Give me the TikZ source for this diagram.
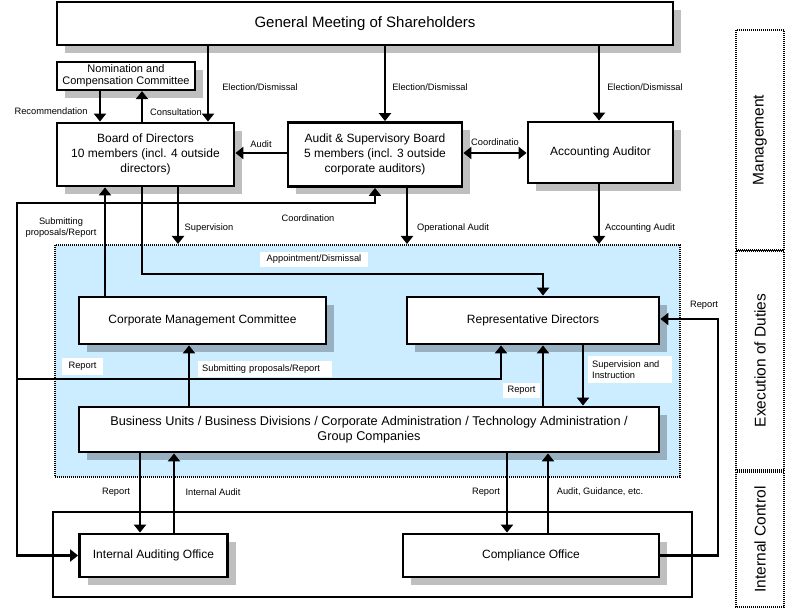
\documentclass[tikz,border=0pt]{standalone}
\usepackage{fontspec}
\setmainfont{Liberation Sans}
\usetikzlibrary{arrows.meta,shadows}
\definecolor{execblue}{HTML}{CCECFF}
\tikzset{
  box/.style={draw, line width=2.8pt, fill=white, align=center, inner sep=0pt,
    font=\fontsize{12}{15}\selectfont,
    drop shadow={shadow xshift=8pt, shadow yshift=-8pt, fill=black, opacity=0.25}},
  dotbox/.style={draw, line width=2pt, dash pattern=on 1pt off 1pt, inner sep=0pt},
  sidebox/.style={dotbox, rotate=90, font=\fontsize{15.5}{18}\selectfont},
  arr/.style={line width=2.2pt, -{Triangle[length=8pt,width=12pt]}},
  arrb/.style={line width=2.2pt, {Triangle[length=8pt,width=12pt]}-{Triangle[length=8pt,width=12pt]}},
  lbl/.style={inner sep=0pt, font=\fontsize{9.3}{11}\selectfont},
  wlbl/.style={lbl, fill=white, inner xsep=4pt, inner ysep=3pt}
}
\begin{document}
\begin{tikzpicture}[x=1pt,y=-1pt]
\useasboundingbox (0,0) rectangle (798,609);

% execution region
\node[dotbox, fill=execblue, minimum width=625, minimum height=232] (exec) at (367.5,361) {};
% internal control region
\node[draw, line width=1.4pt, minimum width=639, minimum height=85, inner sep=0pt] (ic) at (372.5,554.5) {};

% side labels
\node[sidebox, minimum width=220, minimum height=48] (mg) at (760,140) {Management};
\node[sidebox, minimum width=219, minimum height=48] (ed) at (760,360.5) {Execution of Duties};
\node[sidebox, minimum width=135, minimum height=48] (icl) at (760,539.5) {Internal Control};

% boxes
\node[box, minimum width=616, minimum height=43, font=\fontsize{15}{18}\selectfont] (gm) at (365,23.5) {\raisebox{-1.5pt}{General Meeting of Shareholders}};
\node[box, line width=2.2pt, minimum width=138, minimum height=28, font=\fontsize{11}{12}\selectfont] (ncc) at (126,76) {Nomination and\\Compensation Committee};
\node[box, minimum width=177, minimum height=63] (bod) at (145.5,154.5) {Board of Directors\\10 members (incl. 4 outside\\directors)};
\node[box, minimum width=174, minimum height=64] (asb) at (375,154.5) {Audit \& Supervisory Board\\5 members (incl. 3 outside\\corporate auditors)};
\node[box, minimum width=145, minimum height=61] (aa) at (600.5,152.5) {Accounting Auditor};
\node[box, minimum width=247, minimum height=47] (cmc) at (202.5,320.5) {Corporate Management Committee};
\node[box, minimum width=252, minimum height=47] (rd) at (533,320.5) {Representative Directors};
\node[box, minimum width=580, minimum height=45, font=\fontsize{12.7}{15.5}\selectfont] (bu) at (369,429.5) {Business Units / Business Divisions / Corporate Administration / Technology Administration /\\Group Companies};
\node[box, minimum width=148, minimum height=43] (iao) at (153.5,555.5) {Internal Auditing Office};
\node[box, minimum width=256, minimum height=43] (co) at (531,555.5) {Compliance Office};

% helper coordinates
\coordinate (x100) at (100,0);
\coordinate (x105) at (105,0);
\coordinate (x140) at (140,0);
\coordinate (x142) at (142,0);
\coordinate (x174) at (174,0);
\coordinate (x178) at (178,0);
\coordinate (x189) at (189,0);
\coordinate (x208) at (208,0);
\coordinate (x385) at (385,0);
\coordinate (x407) at (407,0);
\coordinate (x501) at (501,0);
\coordinate (x507) at (507,0);
\coordinate (x543) at (543,0);
\coordinate (x548) at (548,0);
\coordinate (x583) at (583,0);
\coordinate (x599) at (599,0);
\coordinate (y153) at (0,153);
\coordinate (jL) at (17,203);
\coordinate (jR) at (17,379);
\coordinate (apd) at (142,274);
\coordinate (rep) at (718,319);

% connectors
\draw[arr] (gm.south -| x208) -- (bod.north -| x208);
\draw[arr] (gm.south -| x385) -- (asb.north -| x385);
\draw[arr] (gm.south -| x599) -- (aa.north -| x599);
\draw[arr] (ncc.south -| x100) -- (bod.north -| x100);
\draw[arr] (bod.north -| x142) -- (ncc.south -| x142);
\draw[arr] (asb.west |- y153) -- (bod.east |- y153);
\draw[arrb] (asb.east |- y153) -- (aa.west |- y153);
\draw[arr] (cmc.north -| x105) -- (bod.south -| x105);
\draw[arr] (bod.south -| x142) -- (apd) -| (rd.north -| x543);
\draw[arr] (bod.south -| x178) -- (exec.north -| x178);
\draw[arr] (asb.south -| x407) -- (exec.north -| x407);
\draw[arr] (aa.south -| x599) -- (exec.north -| x599);
\draw[arrb] (iao.west) -| (jL) -| (asb.south);
\draw[arr] (jR) -| (rd.south -| x501);
\draw[arr] (bu.north -| x189) -- (cmc.south -| x189);
\draw[arr] (bu.north -| x543) -- (rd.south -| x543);
\draw[arr] (rd.south -| x583) -- (bu.north -| x583);
\draw[arr] (bu.south -| x140) -- (iao.north -| x140);
\draw[arr] (iao.north -| x174) -- (bu.south -| x174);
\draw[arr] (bu.south -| x507) -- (co.north -| x507);
\draw[arr] (co.north -| x548) -- (bu.south -| x548);
\draw[arr] (co.east) -| (rep) -- (rd.east |- rep);

% labels
\node[lbl] (l1) at (51,111) {Recommendation};
\node[lbl] (l2) at (176,112) {Consultation};
\node[lbl] (l3) at (260,87) {Election/Dismissal};
\node[lbl] (l4) at (430,87) {Election/Dismissal};
\node[lbl] (l5) at (645,87) {Election/Dismissal};
\node[lbl] (l6) at (261,144) {Audit};
\node[lbl] (l7) at (495,142) {Coordinatio};
\node[lbl, align=center] (l8) at (61,228) {Submitting\\proposals/Report};
\node[lbl] (l9) at (209,228) {Supervision};
\node[lbl] (l10) at (308,218) {Coordination};
\node[lbl] (l11) at (453,228) {Operational Audit};
\node[lbl] (l12) at (640,228) {Accounting Audit};
\node[wlbl, minimum width=108, minimum height=15] (l13) at (314,259.5) {Appointment/Dismissal};
\node[wlbl, minimum width=41, minimum height=17] (l14) at (82.5,366.5) {Report};
\node[wlbl, anchor=west, text width=126, align=left, minimum height=16] (l15) at (198,369) {Submitting proposals/Report};
\node[wlbl, minimum width=37, minimum height=13] (l16) at (521.5,390.5) {Report};
\node[wlbl, anchor=north west, text width=76, align=left, minimum height=27] (l17) at (588,356) {Supervision and\\Instruction};
\node[lbl] (l18) at (704,305) {Report};
\node[lbl] (l19) at (116,492) {Report};
\node[lbl] (l20) at (213,492) {Internal Audit};
\node[lbl] (l21) at (486,492) {Report};
\node[lbl] (l22) at (600,492) {Audit, Guidance, etc.};
\end{tikzpicture}
\end{document}
